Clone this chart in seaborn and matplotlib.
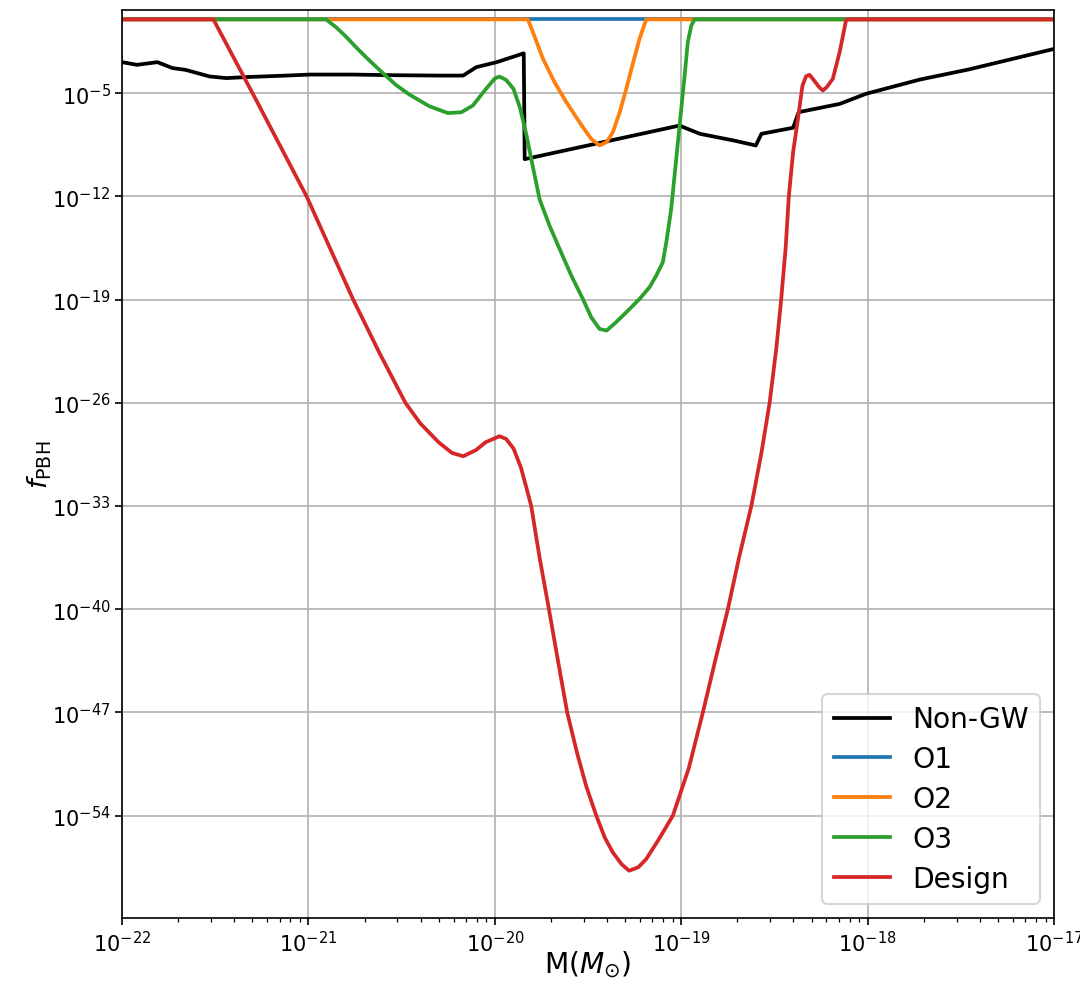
import numpy as np
import pandas as pd
import matplotlib
matplotlib.use("Agg")
import matplotlib.pyplot as plt
from matplotlib.ticker import NullLocator
import seaborn as sns

# log10(M / Msun) and log10(f_PBH)
nongw_logm = [-22.0, -21.92, -21.81, -21.73, -21.66, -21.53, -21.44, -21.33, -21.12, -20.99,
              -20.76, -20.58, -20.30, -20.17, -20.10, -19.99, -19.845, -19.84, -19.01, -18.90,
              -18.72, -18.60, -18.57, -18.40, -18.37, -18.15, -18.01, -17.72, -17.46, -17.0]
nongw_logf = [-2.90, -3.08, -2.90, -3.30, -3.42, -3.87, -3.98, -3.91, -3.81, -3.74,
              -3.74, -3.78, -3.81, -3.81, -3.24, -2.90, -2.30, -9.48, -7.20, -7.76,
              -8.21, -8.55, -7.76, -7.35, -6.29, -5.73, -5.05, -4.08, -3.40, -2.0]

o1_logm = [-22.0, -17.0]
o1_logf = [0.0, 0.0]

o2_logm = [-22.0, -19.823, -19.796, -19.742, -19.68, -19.617, -19.528, -19.483, -19.438,
           -19.40, -19.367, -19.33, -19.295, -19.26, -19.224, -19.188, -17.0]
o2_logf = [0.0, 0.0, -0.86, -2.67, -4.25, -5.61, -7.31, -8.10, -8.55,
           -8.32, -7.65, -6.29, -4.71, -3.01, -1.32, 0.0, 0.0]

o3_logm = [-22.0, -20.905, -20.85, -20.80, -20.74, -20.68, -20.60, -20.53, -20.458, -20.35,
           -20.252, -20.18, -20.118, -20.05, -20.0, -19.975, -19.94, -19.90, -19.865,
           -19.83, -19.796, -19.76, -19.707, -19.653, -19.59, -19.528, -19.483, -19.438,
           -19.40, -19.35, -19.286, -19.224, -19.17, -19.134, -19.099, -19.08, -19.054,
           -19.036, -19.018, -19.0, -18.982, -18.965, -18.946, -18.929, -17.0]
o3_logf = [0.0, 0.0, -0.55, -1.15, -1.95, -2.70, -3.65, -4.45, -5.10, -5.90,
           -6.35, -6.30, -5.84, -4.75, -4.0, -3.88, -4.10, -4.71, -6.0,
           -7.88, -10.0, -12.2, -13.98, -15.56, -17.37, -18.96, -20.2, -21.0,
           -21.1, -20.54, -19.75, -18.96, -18.16, -17.37, -16.47, -15.1, -12.85,
           -10.59, -8.32, -6.07, -3.81, -1.54, -0.41, 0.0, 0.0]

design_logm = [-22.0, -21.51, -21.30, -21.01, -20.76, -20.62, -20.48, -20.40, -20.30,
               -20.23, -20.17, -20.10, -20.05, -19.975, -19.94, -19.90, -19.86, -19.83,
               -19.805, -19.76, -19.71, -19.66, -19.612, -19.56, -19.51, -19.456, -19.41,
               -19.367, -19.32, -19.28, -19.23, -19.188, -19.12, -19.045, -18.96, -18.884,
               -18.82, -18.75, -18.69, -18.624, -18.57, -18.526, -18.49, -18.464, -18.44,
               -18.423, -18.40, -18.374, -18.35, -18.33, -18.312, -18.29, -18.26, -18.24,
               -18.22, -18.187, -18.15, -18.115, -17.0]
design_logf = [0.0, 0.0, -5.0, -12.0, -19.0, -22.6, -26.0, -27.4, -28.7,
               -29.4, -29.63, -29.2, -28.68, -28.27, -28.45, -29.1, -30.4, -31.8,
               -33.0, -36.5, -40.0, -43.6, -47.0, -49.7, -52.0, -54.0, -55.5,
               -56.5, -57.3, -57.74, -57.5, -56.95, -55.6, -54.0, -50.8, -47.0,
               -43.6, -40.0, -36.5, -33.0, -29.4, -26.0, -22.3, -19.0, -15.5,
               -12.0, -9.0, -6.74, -4.5, -3.85, -3.76, -4.1, -4.6, -4.82,
               -4.6, -4.03, -2.2, 0.0, 0.0]

labels = ["Non-GW", "O1", "O2", "O3", "Design"]
colors = ["black", "tab:blue", "tab:orange", "tab:green", "tab:red"]
series = [(nongw_logm, nongw_logf), (o1_logm, o1_logf), (o2_logm, o2_logf),
          (o3_logm, o3_logf), (design_logm, design_logf)]

frames = []
for lab, (lm, lf) in zip(labels, series):
    frames.append(pd.DataFrame({"M": 10.0 ** np.array(lm), "f": 10.0 ** np.array(lf), "curve": lab}))
df = pd.concat(frames, ignore_index=True)

fig = plt.figure(figsize=(7.2, 6.56), dpi=150)
ax = fig.add_axes([0.113, 0.066, 0.863, 0.923])
ax.set_xscale("log")
ax.set_yscale("log")

sns.lineplot(data=df, x="M", y="f", hue="curve", hue_order=labels,
             palette=dict(zip(labels, colors)), estimator=None, sort=False,
             linewidth=1.8, ax=ax)

ax.set_xlim(1e-22, 1e-17)
ax.set_ylim(10 ** -60.95, 10 ** 0.65)
ax.set_yticks([10.0 ** k for k in range(-54, 0, 7)])
ax.yaxis.set_minor_locator(NullLocator())
ax.grid(True, which="major", color="#b0b0b0", linewidth=0.8)
ax.tick_params(labelsize=10, pad=2)

ax.set_xlabel(r"M($M_{\odot}$)", fontsize=13.5, labelpad=-3)
ax.set_ylabel(r"$f_{\rm PBH}$", fontsize=13, labelpad=-1)
ax.legend(loc="lower right", fontsize=13.5, labelspacing=0.42, title=None)

fig.savefig("out.png", dpi=150)
